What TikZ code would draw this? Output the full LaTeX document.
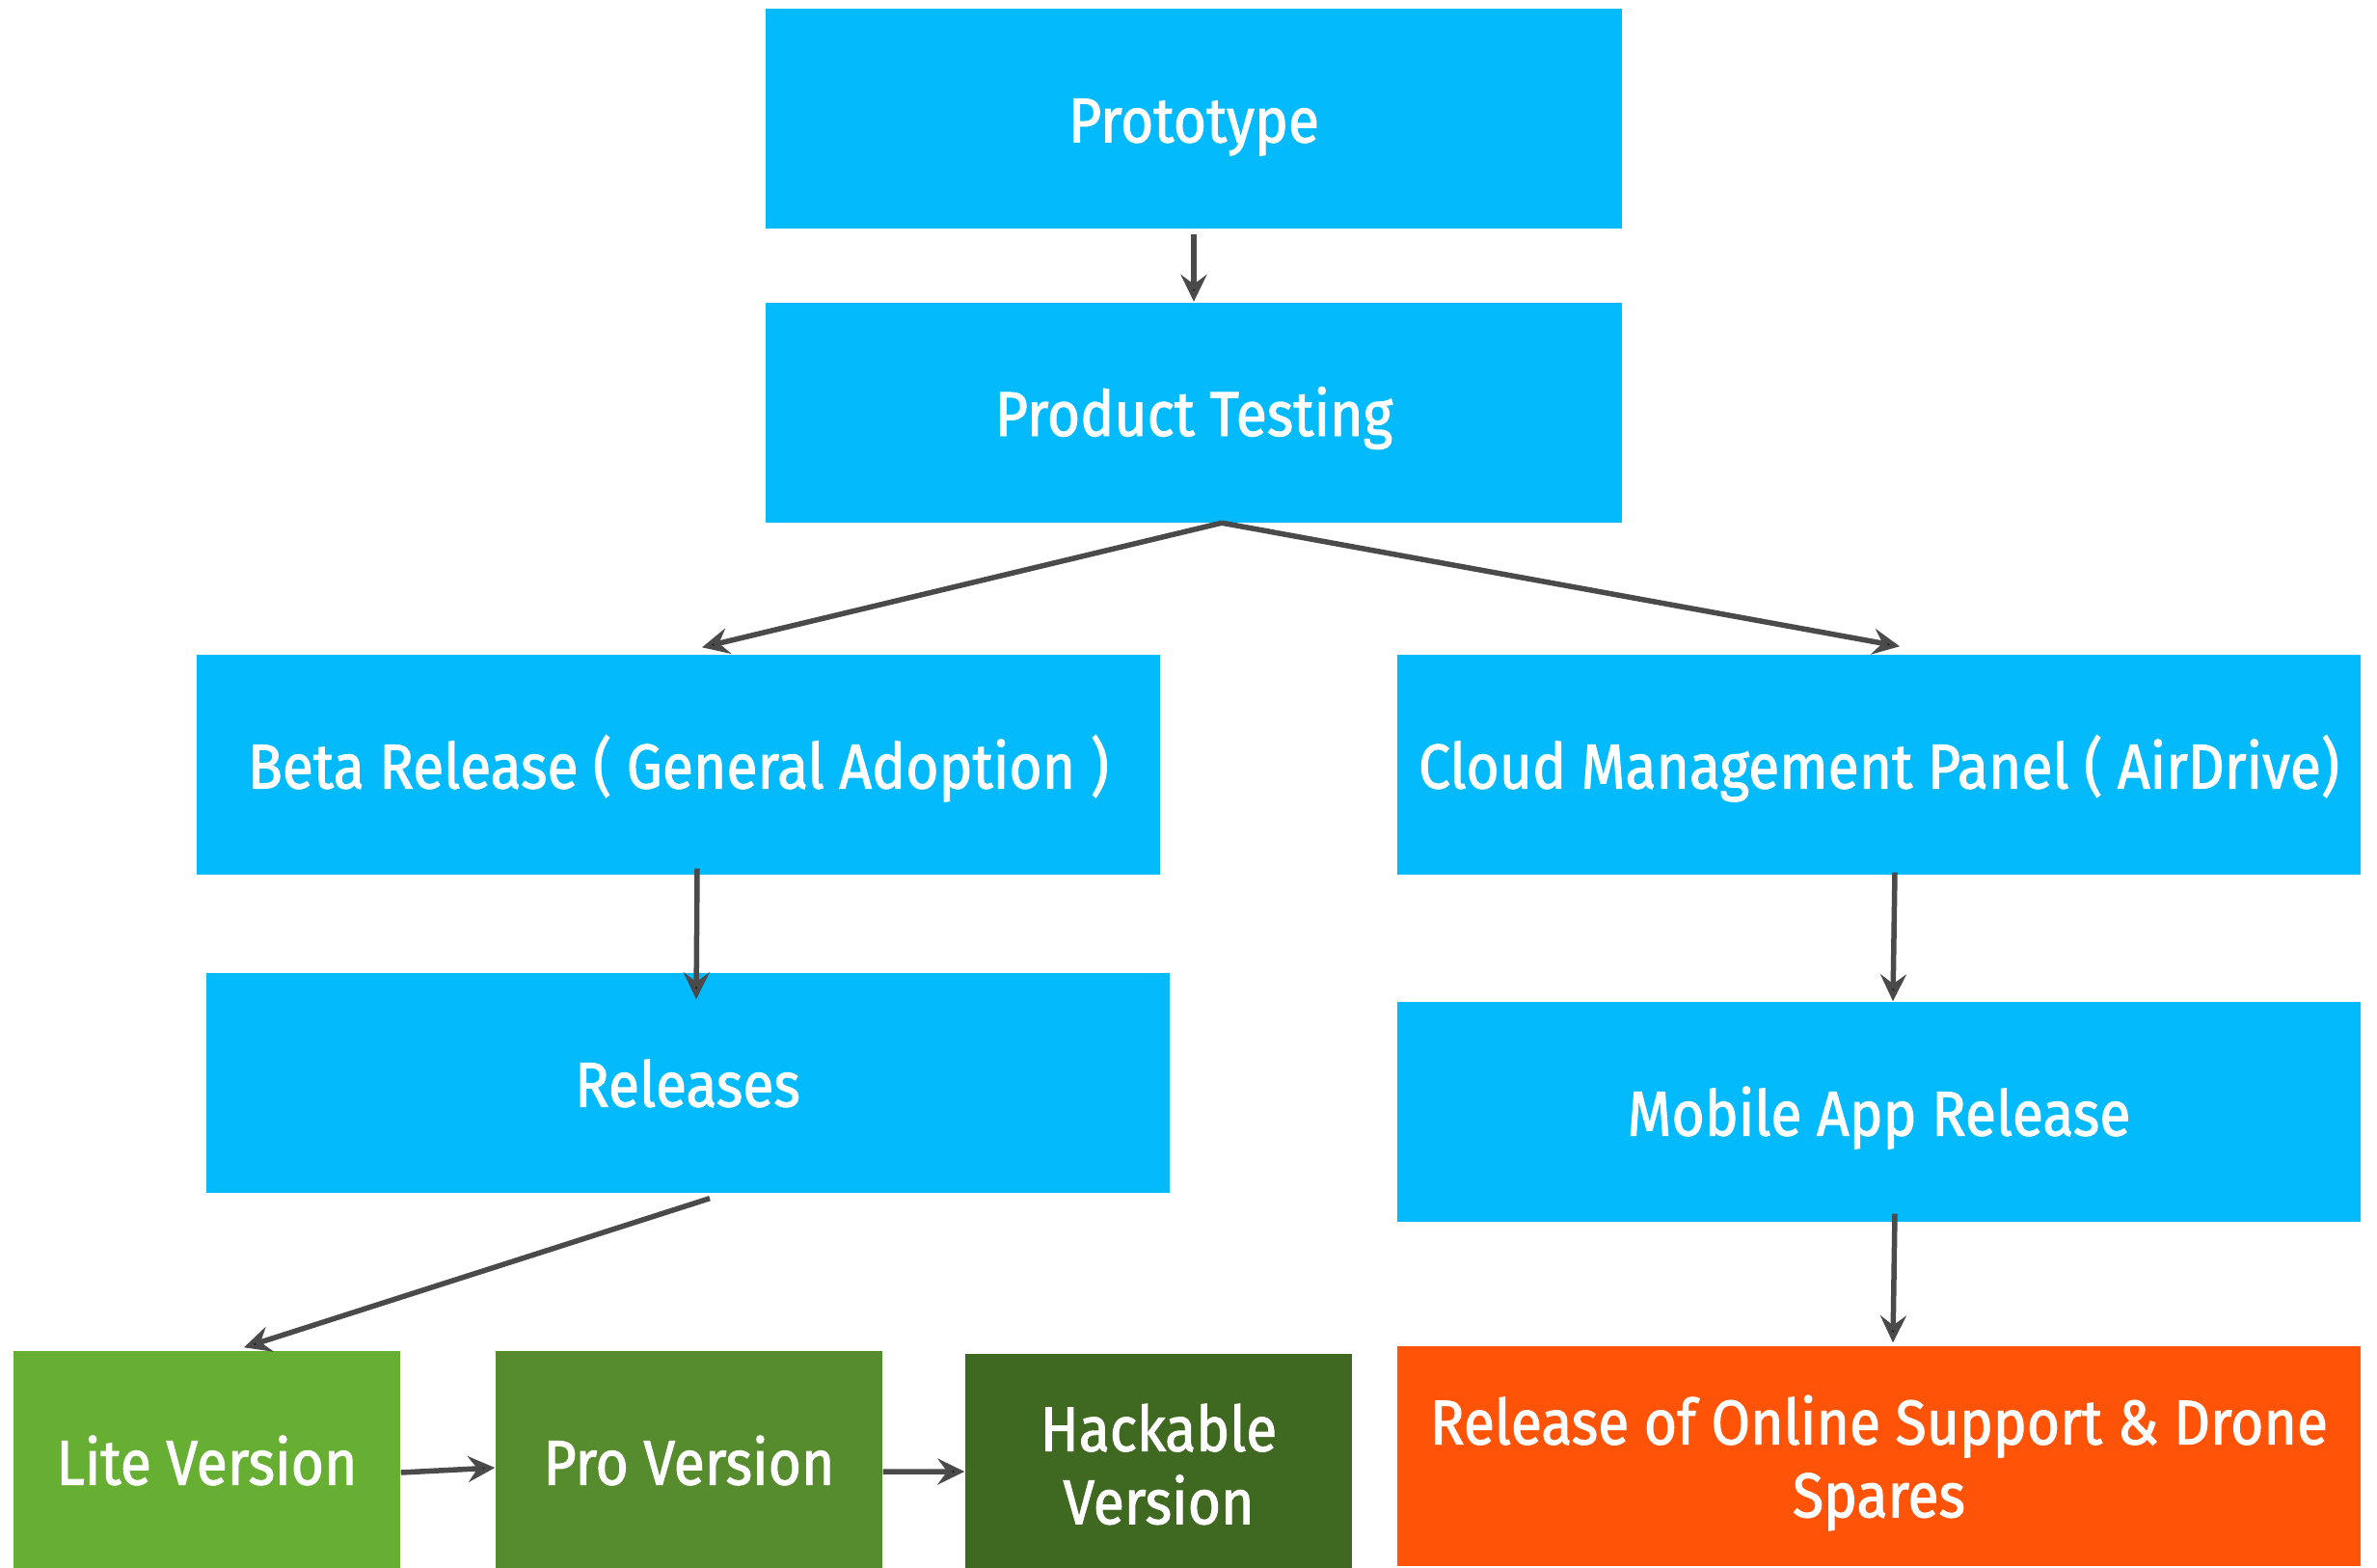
\documentclass[tikz,border=0pt]{standalone}
\usepackage{fontspec}
\setmainfont{Fira Sans}[FakeStretch=0.9,FakeBold=1.5]
\usepackage{tikz}
\usetikzlibrary{arrows.meta,positioning}
\definecolor{skyblue}{HTML}{03BAFC}
\definecolor{litegreen}{HTML}{67AF32}
\definecolor{progreen}{HTML}{568C2D}
\definecolor{hackgreen}{HTML}{3F6920}
\definecolor{sparesorange}{HTML}{FF5408}
\definecolor{arrowgray}{HTML}{4A4A4A}
\tikzset{>={Stealth[length=2.8mm,width=2.7mm,inset=1mm]},auto,stage node/.style={rectangle,fill=skyblue,text=white,minimum height=2.28cm,inner sep=0pt,align=center,text depth=0pt,font=\fontsize{18.6}{21.5}\selectfont},one line/.style={text height=4.9mm},wide node/.style={stage node,minimum width=9.99cm},ver node/.style={stage node,minimum width=4.01cm},edge/.style={draw=arrowgray,line width=0.55mm}}

\begin{document}
\begin{tikzpicture}
    \useasboundingbox (0,0) rectangle (24.65,-16.25);
    \node[stage node, one line, minimum width=8.88cm, on grid] (proto) at (12.38,-1.23) {Prototype};
    \node[stage node, one line, minimum width=8.88cm, on grid] (test) [below = 3.045cm of proto] {Product Testing};
    \node[wide node, one line, on grid] (beta) [below left = 3.655cm and 5.345cm of test] {Beta Release ( General Adoption )};
    \node[wide node, one line, on grid] (cloud) [below right = 3.655cm and 7.105cm of test] {Cloud Management Panel ( AirDrive)};
    \node[wide node, one line, on grid] (rel) [below right = 3.3cm and 0.095cm of beta] {Releases};
    \node[wide node, one line, on grid] (mobile) [below = 3.6cm of cloud] {Mobile App Release};
    \node[ver node, one line, fill=litegreen, on grid] (lite) [below left = 3.92cm and 4.985cm of rel] {Lite Version};
    \node[ver node, one line, fill=progreen, on grid] (pro) [right = 5cm of lite] {Pro Version};
    \node[ver node, fill=hackgreen, on grid] (hack) [below right = 0.03cm and 4.87cm of pro] {Hackable\\Version};
    \node[wide node, fill=sparesorange, on grid] (spares) [below = 3.57cm of mobile] {Release of Online Support \& Drone\\Spares};
    \coordinate (split) at ([xshift=2.9mm]test.south);
    \path[edge] ([yshift=-0.5mm]proto.south) edge [->] (test.north);
    \path[edge] (split) edge [->] ([xshift=2.45mm,yshift=0.7mm]beta.north);
    \path[edge] (split) edge [->] ([xshift=2.15mm,yshift=0.8mm]cloud.north);
    \path[edge] ([xshift=1.95mm,yshift=0.7mm]beta.south) edge [->] ([xshift=0.9mm,yshift=-2.8mm]rel.north);
    \path[edge] ([xshift=1.65mm,yshift=0.3mm]cloud.south) edge [->] ([xshift=1.45mm]mobile.north);
    \path[edge] ([xshift=1.65mm,yshift=0.9mm]mobile.south) edge [->] ([xshift=1.45mm,yshift=0.3mm]spares.north);
    \path[edge] ([xshift=2.3mm,yshift=-0.5mm]rel.south) edge [->] ([xshift=3.85mm,yshift=0.3mm]lite.north);
    \path[edge] ([yshift=-1.2mm]lite.east) edge [->] ([yshift=-0.7mm]pro.west);
    \path[edge] ([yshift=-1.1mm]pro.east) edge [->] ([yshift=-0.8mm]hack.west);
  \end{tikzpicture}
\end{document}
